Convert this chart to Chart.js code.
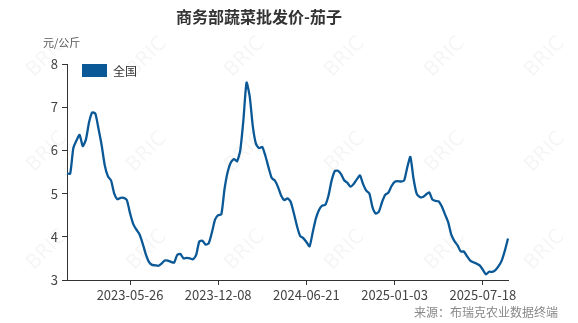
<!DOCTYPE html>
<html>
<head>
<meta charset="utf-8">
<script src="https://cdn.jsdelivr.net/npm/chart.js@4"></script>
<style>
  html, body { margin: 0; padding: 0; background: #fff; }
</style>
</head>
<body>
<canvas id="priceChart" width="578" height="323"></canvas>
<script>
// 周度数据，起始于 2023-01-06
const startDate = '2023-01-06';
const seriesName = '全国';
const yTicks = [3, 4, 5, 6, 7, 8];
const shownDates = ['2023-05-26', '2023-12-08', '2024-06-21', '2025-01-03', '2025-07-18'];
const prices = [
  5.47, 5.46, 6.05, 6.23, 6.36, 6.10, 6.25, 6.65, 6.88, 6.85,
  6.50, 6.12, 5.65, 5.40, 5.30, 5.00, 4.87, 4.90, 4.90, 4.85,
  4.55, 4.30, 4.17, 4.06, 3.85, 3.60, 3.42, 3.35, 3.34, 3.33,
  3.38, 3.45, 3.45, 3.42, 3.40, 3.58, 3.60, 3.50, 3.51, 3.50,
  3.48, 3.58, 3.89, 3.91, 3.82, 3.85, 4.10, 4.40, 4.50, 4.52,
  5.10, 5.50, 5.72, 5.80, 5.75, 6.00, 6.70, 7.57, 7.25, 6.55,
  6.15, 6.05, 6.08, 5.87, 5.60, 5.36, 5.30, 5.15, 4.95, 4.85,
  4.89, 4.81, 4.55, 4.25, 4.02, 3.97, 3.88, 3.78, 4.10, 4.42,
  4.62, 4.72, 4.74, 4.95, 5.30, 5.52, 5.53, 5.45, 5.31, 5.25,
  5.16, 5.22, 5.33, 5.42, 5.22, 5.07, 5.00, 4.68, 4.54, 4.58,
  4.80, 4.97, 5.02, 5.17, 5.27, 5.29, 5.28, 5.30, 5.60, 5.85,
  5.35, 5.00, 4.92, 4.92, 4.98, 5.03, 4.86, 4.83, 4.82, 4.70,
  4.52, 4.34, 4.05, 3.90, 3.80, 3.66, 3.66, 3.55, 3.45, 3.41,
  3.38, 3.34, 3.24, 3.13, 3.19, 3.19, 3.23, 3.32, 3.45, 3.68,
  3.96
];

const makeWeeks = (start, count) => {
  const out = [];
  const d = new Date(start + 'T00:00:00Z');
  for (let i = 0; i < count; i++) {
    out.push(d.toISOString().slice(0, 10));
    d.setUTCDate(d.getUTCDate() + 7);
  }
  return out;
};
const weeks = makeWeeks(startDate, prices.length);

const LINE_COLOR = '#0a5896';
const FONT = '"Noto Sans CJK SC", "Noto Sans", sans-serif';

const decor = {
  id: 'decor',
  beforeDraw(chart) {
    const ctx = chart.ctx;
    ctx.save();
    ctx.fillStyle = '#fff';
    ctx.fillRect(0, 0, chart.width, chart.height);
    // 水印
    ctx.font = '20px "DejaVu Sans", sans-serif';
    ctx.fillStyle = 'rgba(0,0,0,0.04)';
    ctx.textAlign = 'center';
    ctx.textBaseline = 'middle';
    [57, 152, 250].forEach(cy => {
      [47, 147, 245, 345, 445, 545].forEach(cx => {
        ctx.save();
        ctx.translate(cx, cy);
        ctx.rotate(-Math.PI / 4);
        ctx.fillText('BRIC', 0, 0);
        ctx.restore();
      });
    });
    ctx.restore();
  },
  afterDraw(chart) {
    const ctx = chart.ctx;
    const area = chart.chartArea;
    ctx.save();
    ctx.textBaseline = 'middle';

    ctx.fillStyle = '#333';
    ctx.font = 'bold 16px ' + FONT;
    ctx.textAlign = 'center';
    ctx.fillText('商务部蔬菜批发价-茄子', 259, 17);

    ctx.fillStyle = '#555';
    ctx.font = '11px ' + FONT;
    ctx.textAlign = 'left';
    ctx.fillText('元/公斤', 43, 43);

    // 图例
    ctx.fillStyle = LINE_COLOR;
    ctx.fillRect(area.left + 15, area.top, 25, 13);
    ctx.fillStyle = '#333';
    ctx.font = '12px ' + FONT;
    ctx.fillText(chart.data.datasets[0].label, area.left + 46, area.top + 7);

    ctx.fillStyle = '#888';
    ctx.textAlign = 'right';
    ctx.fillText('来源：布瑞克农业数据终端', 558, 312);
    ctx.restore();
  }
};

new Chart(document.getElementById('priceChart'), {
  type: 'line',
  data: {
    labels: weeks,
    datasets: [{
      label: seriesName,
      data: prices,
      borderColor: LINE_COLOR,
      backgroundColor: LINE_COLOR,
      borderWidth: 2.3,
      pointRadius: 0,
      tension: 0.2
    }]
  },
  options: {
    responsive: false,
    animation: false,
    layout: { padding: { top: 64, right: 70, bottom: 0, left: 0 } },
    plugins: {
      legend: { display: false },
      title: { display: false },
      tooltip: { enabled: false }
    },
    scales: {
      x: {
        type: 'category',
        offset: false,
        afterFit: s => { s.height = 43; },
        border: { display: true, color: '#333', width: 1 },
        grid: { display: true, drawOnChartArea: false, drawTicks: true, tickLength: 5, color: '#333' },
        ticks: {
          autoSkip: false,
          maxRotation: 0,
          padding: 2,
          color: '#444',
          font: { size: 13, family: FONT },
          callback(value) {
            const lab = this.getLabelForValue(value);
            return shownDates.includes(lab) ? lab : null;
          }
        }
      },
      y: {
        min: yTicks[0],
        max: yTicks[yTicks.length - 1],
        afterFit: s => { s.width = 67; },
        afterBuildTicks: s => { s.ticks = yTicks.map(v => ({ value: v })); },
        border: { display: true, color: '#333', width: 1 },
        grid: { display: true, drawOnChartArea: false, drawTicks: true, tickLength: 5, color: '#333' },
        ticks: {
          padding: 4,
          color: '#444',
          font: { size: 13, family: FONT }
        }
      }
    }
  },
  plugins: [decor]
});
</script>
</body>
</html>
